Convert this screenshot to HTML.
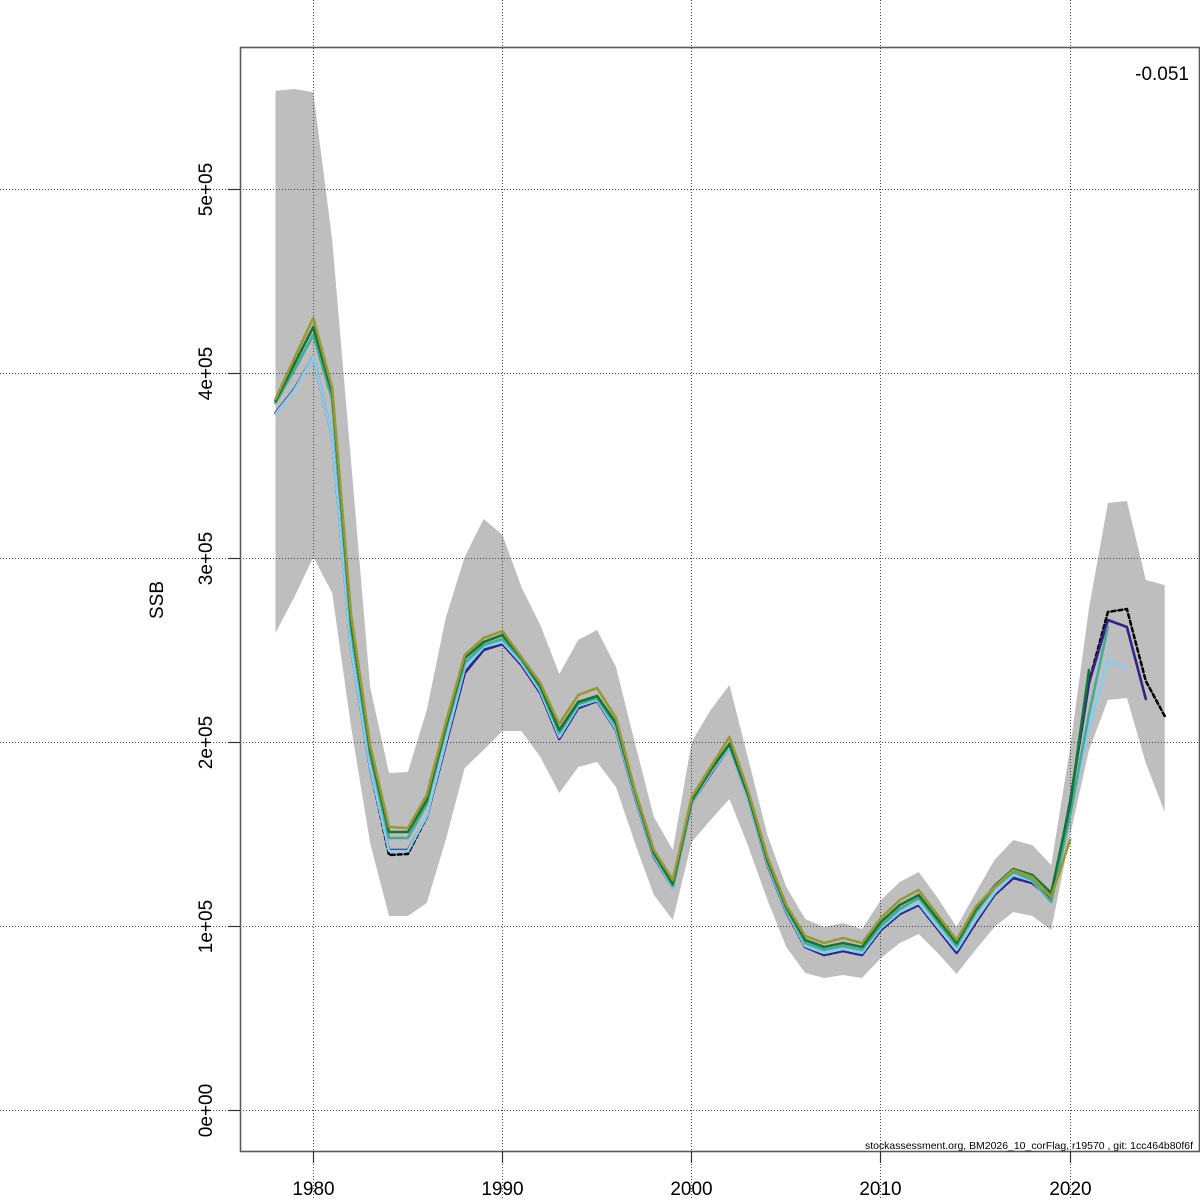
<!DOCTYPE html>
<html>
<head>
<meta charset="utf-8">
<style>
html,body{margin:0;padding:0;background:#fff;}
svg{display:block;}
text{font-family:"Liberation Sans",Arial,sans-serif;fill:#000;}
</style>
</head>
<body>
<svg width="1200" height="1200" viewBox="0 0 1200 1200" xmlns="http://www.w3.org/2000/svg">
<rect x="0" y="0" width="1200" height="1200" fill="#fff"/>

<!-- confidence band -->
<polygon fill="#BEBEBE" stroke="none" points="275.5,90.7 294.4,89 313.3,92.3 332.2,240 351.1,462 370.1,687 389,773 407.9,772 426.8,710 445.7,618 464.7,557 483.6,519 502.5,535 521.4,587 540.3,625 559.3,674 578.2,640 597.1,630 616,667 634.9,743 653.9,817 672.8,850 691.7,742 710.6,710 729.5,685 748.5,760 767.4,835 786.3,887 805.2,919 824.1,927 843.1,923 862,929 880.9,900 899.8,882 918.7,872 937.7,898 956.6,927 975.5,893 994.4,860 1013.3,840 1032.3,845 1051.2,865 1070.1,748 1089,608 1107.9,503 1126.9,501 1145.8,580 1164.7,585 1164.7,812 1145.8,763 1126.9,698 1107.9,700 1089,750 1070.1,835 1051.2,930 1032.3,916 1013.3,912 994.4,927 975.5,950 956.6,974 937.7,953 918.7,934 899.8,943 880.9,958 862,978 843.1,975 824.1,978 805.2,973 786.3,947 767.4,900 748.5,847 729.5,799 710.6,820 691.7,842 672.8,920 653.9,895 634.9,843 616,787 597.1,762 578.2,767 559.3,793 540.3,757 521.4,731 502.5,731 483.6,750 464.7,768 445.7,840 426.8,903 407.9,916 389,916 370.1,843 351.1,727 332.2,593 313.3,557 294.4,597 275.5,633"/>

<!-- grid -->
<g stroke="#444" stroke-width="1" stroke-dasharray="1 2" fill="none">
<line x1="0" y1="1110.5" x2="1200" y2="1110.5"/>
<line x1="0" y1="926.5" x2="1200" y2="926.5"/>
<line x1="0" y1="742.5" x2="1200" y2="742.5"/>
<line x1="0" y1="558.5" x2="1200" y2="558.5"/>
<line x1="0" y1="373.5" x2="1200" y2="373.5"/>
<line x1="0" y1="189.5" x2="1200" y2="189.5"/>
<line x1="313.5" y1="0" x2="313.5" y2="1200"/>
<line x1="502.5" y1="0" x2="502.5" y2="1200"/>
<line x1="691.5" y1="0" x2="691.5" y2="1200"/>
<line x1="880.5" y1="0" x2="880.5" y2="1200"/>
<line x1="1070.5" y1="0" x2="1070.5" y2="1200"/>
</g>

<!-- series -->
<g fill="none" stroke-linejoin="round" stroke-linecap="round">
<polyline stroke="#000" stroke-width="2.5" stroke-dasharray="4 3" points="275.5,413 294.4,389 313.3,357 332.2,437 351.1,649 370.1,768 389,855 407.9,854 426.8,817 445.7,745 464.7,673 483.6,650 502.5,644 521.4,665 540.3,693 559.3,739 578.2,708 597.1,701 616,730 634.9,797 653.9,857 672.8,888 691.7,803 710.6,774 729.5,747 748.5,800 767.4,865 786.3,912 805.2,947 824.1,955 843.1,951 862,955 880.9,930 899.8,914 918.7,905 937.7,929 956.6,953 975.5,923 994.4,895 1013.3,878 1032.3,883 1051.2,899 1070.1,802 1089,682 1107.9,612 1126.9,609 1145.8,681 1164.7,716"/>
<polyline stroke="#332288" stroke-width="2.6" points="275.5,413 294.4,389 313.3,357 332.2,437 351.1,649 370.1,768 389,850 407.9,850 426.8,817 445.7,745 464.7,673 483.6,650 502.5,644 521.4,665 540.3,693 559.3,739 578.2,708 597.1,701 616,730 634.9,797 653.9,857 672.8,888 691.7,803 710.6,774 729.5,747 748.5,800 767.4,865 786.3,912 805.2,947 824.1,955 843.1,951 862,955 880.9,930 899.8,914 918.7,905 937.7,929 956.6,953 975.5,923 994.4,895 1013.3,878 1032.3,883 1051.2,899 1070.1,802 1089,683 1107.9,620 1126.9,627 1145.8,699"/>
<polyline stroke="#88CCEE" stroke-width="2.6" points="275.5,414 294.4,390 313.3,357 332.2,437 351.1,649 370.1,767 389,851 407.9,851 426.8,816 445.7,742 464.7,668 483.6,647 502.5,642 521.4,663 540.3,691 559.3,737 578.2,706 597.1,700 616,729 634.9,796 653.9,856 672.8,888 691.7,803 710.6,773 729.5,747 748.5,800 767.4,864 786.3,911 805.2,946 824.1,953 843.1,949 862,953 880.9,928 899.8,912 918.7,903 937.7,927 956.6,950 975.5,920 994.4,893 1013.3,875 1032.3,881 1051.2,902 1070.1,812 1089,728 1107.9,660 1126.9,668"/>
<polyline stroke="#44AA99" stroke-width="2.6" points="275.5,403 294.4,370 313.3,335 332.2,400 351.1,630 370.1,755 389,838 407.9,838 426.8,804 445.7,730 464.7,663 483.6,645 502.5,639 521.4,660 540.3,688 559.3,733 578.2,704 597.1,698 616,726 634.9,793 653.9,854 672.8,886 691.7,802 710.6,771 729.5,745 748.5,797 767.4,862 786.3,909 805.2,943 824.1,950 843.1,946 862,950 880.9,926 899.8,909 918.7,898 937.7,922 956.6,946 975.5,913 994.4,888 1013.3,872 1032.3,880 1051.2,902 1070.1,815 1089,714 1107.9,627"/>
<polyline stroke="#117733" stroke-width="2.6" points="275.5,401 294.4,364 313.3,327 332.2,393 351.1,622 370.1,750 389,832 407.9,832 426.8,800 445.7,727 464.7,658 483.6,642 502.5,635 521.4,658 540.3,686 559.3,730 578.2,702 597.1,696 616,723 634.9,792 653.9,853 672.8,884 691.7,800 710.6,770 729.5,744 748.5,796 767.4,860 786.3,907 805.2,940 824.1,947 843.1,943 862,947 880.9,922 899.8,905 918.7,895 937.7,919 956.6,943 975.5,910 994.4,886 1013.3,869 1032.3,875 1051.2,893 1070.1,805 1089,670"/>
<polyline stroke="#999933" stroke-width="2.6" points="275.5,399 294.4,358 313.3,318 332.2,388 351.1,615 370.1,745 389,827 407.9,828 426.8,795 445.7,723 464.7,655 483.6,638 502.5,631 521.4,657 540.3,683 559.3,724 578.2,695 597.1,688 616,718 634.9,790 653.9,850 672.8,880 691.7,797 710.6,767 729.5,737 748.5,792 767.4,857 786.3,905 805.2,936 824.1,943 843.1,938 862,943 880.9,918 899.8,900 918.7,890 937.7,915 956.6,940 975.5,907 994.4,887 1013.3,870 1032.3,877 1051.2,897 1070.1,840"/>
</g>

<!-- box -->
<rect x="240.5" y="47.5" width="959" height="1104" fill="none" stroke="#5a5a5a" stroke-width="1.6"/>

<!-- ticks -->
<g stroke="#333" stroke-width="1.2">
<line x1="228" y1="1110.5" x2="240" y2="1110.5"/>
<line x1="228" y1="926.5" x2="240" y2="926.5"/>
<line x1="228" y1="742.5" x2="240" y2="742.5"/>
<line x1="228" y1="558.5" x2="240" y2="558.5"/>
<line x1="228" y1="373.5" x2="240" y2="373.5"/>
<line x1="228" y1="189.5" x2="240" y2="189.5"/>
<line x1="313.5" y1="1151" x2="313.5" y2="1163"/>
<line x1="502.5" y1="1151" x2="502.5" y2="1163"/>
<line x1="691.5" y1="1151" x2="691.5" y2="1163"/>
<line x1="880.5" y1="1151" x2="880.5" y2="1163"/>
<line x1="1070.5" y1="1151" x2="1070.5" y2="1163"/>
</g>

<!-- x tick labels -->
<g font-size="19" text-anchor="middle">
<text x="313.5" y="1195">1980</text>
<text x="502.5" y="1195">1990</text>
<text x="691.5" y="1195">2000</text>
<text x="880.5" y="1195">2010</text>
<text x="1070.5" y="1195">2020</text>
</g>

<!-- y tick labels -->
<g font-size="19" text-anchor="middle">
<text transform="translate(212,1110.5) rotate(-90)">0e+00</text>
<text transform="translate(212,926.5) rotate(-90)">1e+05</text>
<text transform="translate(212,742.5) rotate(-90)">2e+05</text>
<text transform="translate(212,558.5) rotate(-90)">3e+05</text>
<text transform="translate(212,373.5) rotate(-90)">4e+05</text>
<text transform="translate(212,189.5) rotate(-90)">5e+05</text>
</g>

<text font-size="19" text-anchor="middle" transform="translate(163,600) rotate(-90)">SSB</text>

<text x="1189" y="80" font-size="19" text-anchor="end">-0.051</text>

<text x="865" y="1149" font-size="10.5" textLength="328" lengthAdjust="spacingAndGlyphs">stockassessment.org, BM2026_10_corFlag, r19570 , git: 1cc464b80f6f</text>
</svg>
</body>
</html>
